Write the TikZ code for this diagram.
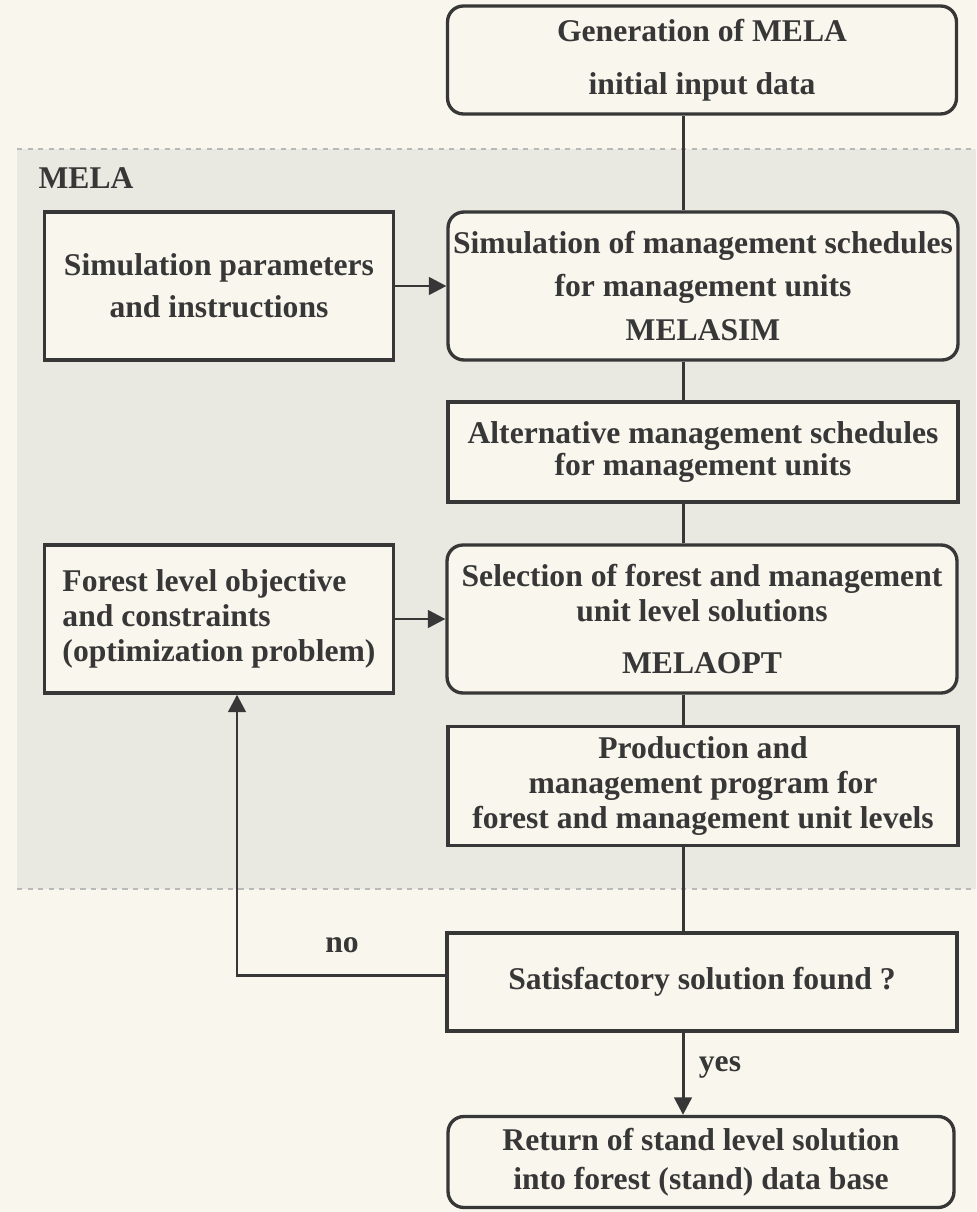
\documentclass[tikz,border=0pt]{standalone}
\usepackage{fontspec}
\setmainfont{Liberation Serif}
\usetikzlibrary{arrows.meta}
\definecolor{paper}{RGB}{248,246,237}
\definecolor{band}{RGB}{233,232,225}
\definecolor{ink}{RGB}{55,55,55}
\definecolor{dashgray}{RGB}{185,185,185}

\begin{document}
\begin{tikzpicture}[x=0.02cm, y=-0.02cm,
    block/.style={draw=ink, line width=1.9pt, fill=paper, text=ink, align=center, inner sep=0pt, font=\bfseries\fontsize{18}{20}\selectfont},
    rblock/.style={block, rounded corners=9pt},
    link/.style={draw=ink, line width=1.7pt},
    flow/.style={link, -{Triangle[length=10pt,width=10pt]}},
    tag/.style={text=ink, font=\bfseries\fontsize{18}{20}\selectfont}]
  \fill[paper] (0,0) rectangle (976,1212);
  \useasboundingbox (0,0) rectangle (976,1212);
  \fill[band] (17,149) rectangle (976,889);
  \draw[dashgray, dashed, line width=0.8pt] (17,149) -- (976,149);
  \draw[dashgray, dashed, line width=0.8pt] (17,889) -- (976,889);
  \node[tag] (mela) at (86,178) {MELA};
  \coordinate (spine) at (683,0);

  \node[rblock, minimum width=10.18cm, minimum height=2.16cm] (gen) at (702,60) {Generation of MELA\\[10pt] initial input data};
  \node[block, minimum width=6.98cm, minimum height=2.96cm] (par) at (219,286) {Simulation parameters\\[4pt] and instructions};
  \node[rblock, minimum width=10.2cm, minimum height=2.96cm] (sim) at (703,286) {Simulation of management schedules\\[5pt] for management units\\[5pt] MELASIM};
  \node[block, minimum width=10.2cm, minimum height=2.0cm] (alt) at (703,452) {Alternative management schedules\\[-2pt] for management units};
  \node[block, minimum width=6.98cm, minimum height=2.96cm, align=left] (obj) at (219,619) {Forest level objective\\ and constraints\\ (optimization problem)};
  \node[rblock, minimum width=10.2cm, minimum height=2.96cm] (sel) at (702,619) {Selection of forest and management\\ unit level solutions\\[10pt] MELAOPT};
  \node[block, minimum width=10.2cm, minimum height=2.38cm] (prod) at (703,786) {Production and\\ management program for\\ forest and management unit levels};
  \node[block, minimum width=10.2cm, minimum height=1.96cm] (sat) at (702,982) {Satisfactory solution found ?};
  \node[rblock, minimum width=10.12cm, minimum height=1.82cm] (ret) at (701,1162) {Return of stand level solution\\[2pt] into forest (stand) data base};

  \draw[link] (gen.south -| spine) -- (sim.north -| spine);
  \draw[link] (sim.south -| spine) -- (alt.north -| spine);
  \draw[link] (alt.south -| spine) -- (sel.north -| spine);
  \draw[link] (sel.south -| spine) -- (prod.north -| spine);
  \draw[link] (prod.south -| spine) -- (sat.north -| spine);
  \draw[flow] (par.east) -- (sim.west);
  \draw[flow] (obj.east) -- (sel.west);
  \draw[flow] ([yshift=0.14cm]sat.west) -| ([xshift=0.36cm]obj.south);
  \draw[flow] (sat.south -| spine) -- (ret.north -| spine);
  \node[tag] (no) at (342,945) {no};
  \node[tag] (yes) at (720,1067) {yes};
\end{tikzpicture}
\end{document}
